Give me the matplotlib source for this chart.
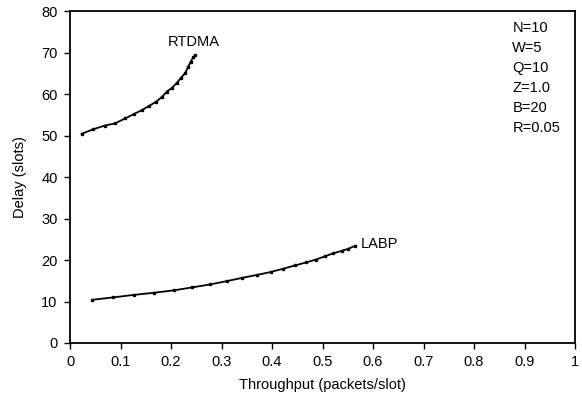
import numpy as np
import matplotlib.pyplot as plt

plt.rcParams['font.family'] = ['Liberation Sans', 'DejaVu Sans']

rtdma_x = [0.023, 0.046, 0.069, 0.089, 0.109, 0.127, 0.142, 0.156, 0.170, 0.182,
           0.192, 0.201, 0.211, 0.219, 0.228, 0.234, 0.239, 0.244, 0.248]
rtdma_y = [50.4, 51.5, 52.4, 52.9, 54.1, 55.2, 56.1, 57.1, 58.1, 59.3,
           60.6, 61.4, 62.6, 63.8, 65.0, 66.6, 67.8, 68.8, 69.4]

labp_x = [0.044, 0.086, 0.127, 0.166, 0.206, 0.242, 0.277, 0.310, 0.341, 0.370,
          0.397, 0.422, 0.446, 0.467, 0.487, 0.505, 0.521, 0.538, 0.551, 0.564]
labp_y = [10.4, 11.0, 11.6, 12.1, 12.7, 13.4, 14.1, 14.9, 15.7, 16.4,
          17.1, 17.9, 18.7, 19.4, 20.1, 20.9, 21.6, 22.2, 22.7, 23.4]

params = ['N=10', 'W=5', 'Q=10', 'Z=1.0', 'B=20', 'R=0.05']

fig = plt.figure(figsize=(5.82, 4.0), dpi=100)
ax = fig.add_axes([0.1203, 0.1425, 0.8677, 0.83])

ax.plot(rtdma_x, rtdma_y, color='black', lw=1.3, marker='s', ms=1.8)
ax.plot(labp_x, labp_y, color='black', lw=1.3, marker='s', ms=1.8)

ax.text(0.193, 71.5, 'RTDMA', fontsize=10.5)
ax.text(0.576, 23.9, 'LABP', fontsize=10.5, va='center')

ax.text(0.876, 77.6, '\n'.join(params), fontsize=10.5, va='top', linespacing=1.55)

ax.set_xlim(0, 1)
ax.set_ylim(0, 80)
ax.set_xticks(np.arange(0, 1.01, 0.1))
ax.set_xticklabels(['0'] + ['%.1f' % v for v in np.arange(0.1, 0.95, 0.1)] + ['1'])
ax.set_yticks(range(0, 81, 10))
ax.tick_params(labelsize=10.5, length=4, width=1, direction='out', pad=5)
for s in ax.spines.values():
    s.set_linewidth(1.3)

ax.set_xlabel('Throughput (packets/slot)', fontsize=10.5, labelpad=6)
ax.set_ylabel('Delay (slots)', fontsize=10.5, labelpad=10)

fig.savefig('out.png', dpi=100)
